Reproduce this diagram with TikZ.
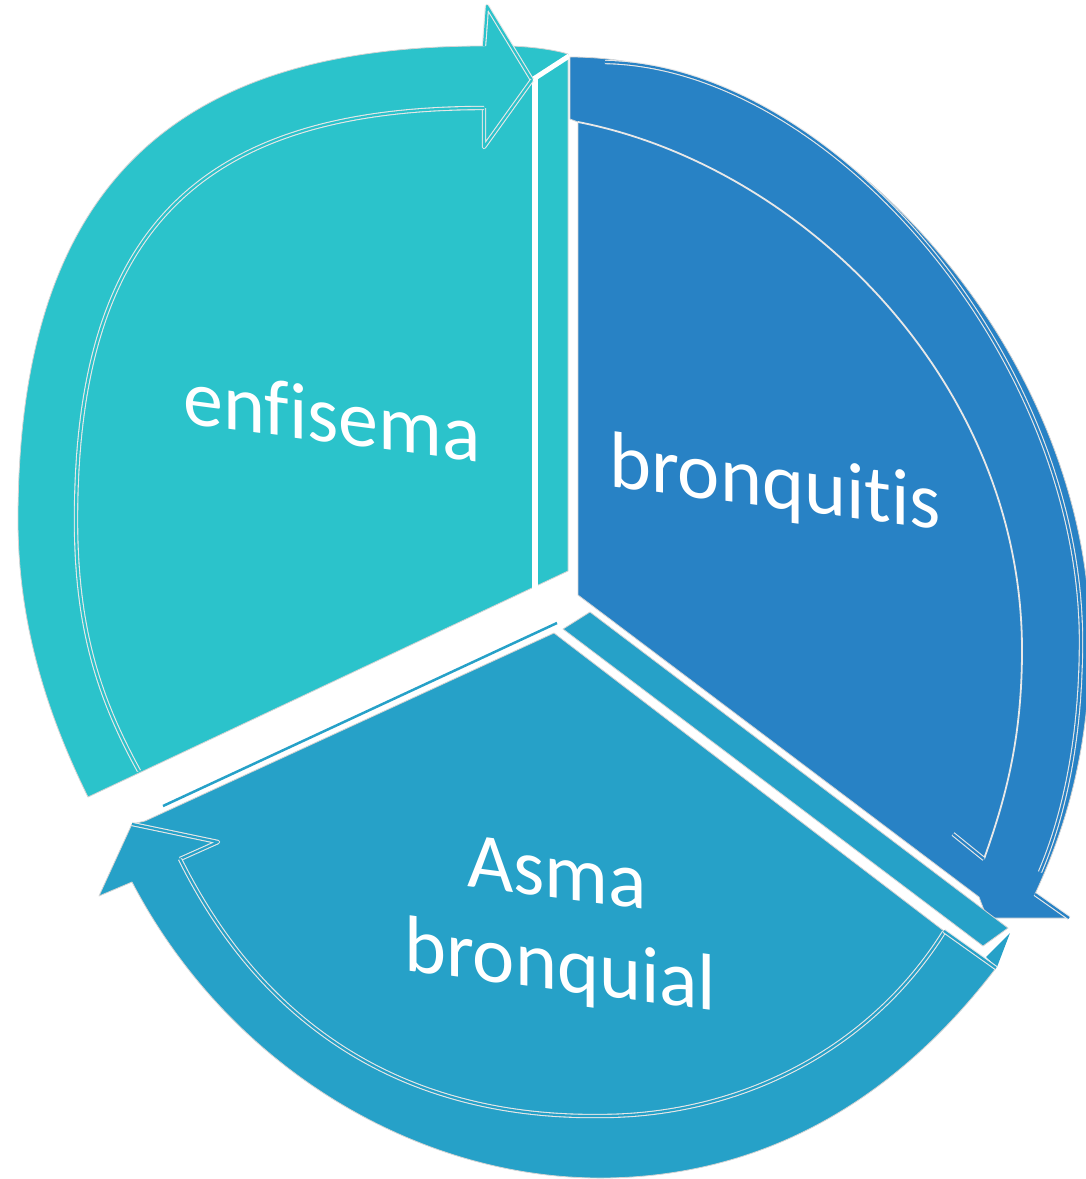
\documentclass[tikz,border=0pt]{standalone}
\usepackage{fontspec}
\setmainfont{Carlito}[Ligatures=CommonOff]
\definecolor{tealc}{RGB}{43,195,203}
\definecolor{bluec}{RGB}{40,130,197}
\definecolor{asmac}{RGB}{38,161,200}
\definecolor{edgec}{RGB}{212,212,212}
\definecolor{linec}{RGB}{232,232,232}
\tikzset{
  lbl/.style={text=white, font=\fontsize{80}{90}\selectfont, inner sep=0pt, anchor=base west, yslant=-0.132},
  dbl/.style={draw=linec, line width=1.1pt, double distance=2.2pt},
  piece/.style={draw=edgec, line width=0.8pt},
}
\begin{document}
\begin{tikzpicture}[x=1pt,y=-1pt,line join=round]
\useasboundingbox (0,0) rectangle (1086,1179);
% ---------- enfisema ----------
\filldraw[piece, fill=tealc]
  (88,797) .. controls (45,710) and (18,620) .. (18,520)
  .. controls (18,180) and (180,46) .. (484,46)
  -- (487,6) -- (511,46)
  .. controls (535,47) and (555,50) .. (568,54)
  -- (568,571) -- cycle;
\draw[white, line width=6.5pt] (535,78) -- (535,589);
\draw[white, line width=5pt] (532,80) -- (569,56);
\draw[dbl, double=tealc] (484,46) -- (487,6) -- (532,80);
\draw[dbl, double=tealc] (532,80) -- (484,147) -- (484,108);
\draw[dbl, double=tealc] (484,108) .. controls (200,108) and (76,230) .. (76,520)
  .. controls (76,630) and (100,700) .. (139,771);
% ---------- bronquitis ----------
\filldraw[piece, fill=bluec]
  (570,119) -- (570,57) .. controls (830,57) and (1090,350) .. (1090,640)
  .. controls (1090,760) and (1060,840) .. (1035,894)
  -- (1069,918) -- (987,918) -- (979,897) -- (578,595) -- (578,122) -- cycle;
\draw[dbl, double=bluec] (605,62) .. controls (830,66) and (1080,355) .. (1081,640)
  .. controls (1081,755) and (1058,830) .. (1040,872);
\draw[linec, line width=1.8pt] (578,122) .. controls (800,165) and (1022,380) .. (1022,650)
  .. controls (1022,740) and (1005,800) .. (984,859);
\draw[dbl, double=bluec] (984,859) -- (953,834);
\draw[dbl, double=bluec] (1035,894) -- (1069,918);
% ---------- Asma bronquial ----------
\filldraw[piece, fill=asmac]
  (132,824) -- (145,821) -- (554,633) -- (944,931) -- (996,968)
  .. controls (880,1120) and (740,1178) .. (600,1178)
  .. controls (420,1178) and (230,1070) .. (132,882)
  -- (99,896) -- cycle;
\filldraw[piece, fill=asmac] (563,629) -- (590,612) -- (1008,928) -- (983,946) -- cycle;
\fill[asmac] (986,957) -- (1010,933) -- (997,967) -- cycle;
\draw[asmac, line width=2.5pt] (163,806) -- (557,623);
\draw[dbl, double=asmac] (132,824) -- (218,842) -- (180,859);
\draw[dbl, double=asmac] (180,859) .. controls (270,1040) and (420,1118) .. (600,1116)
  .. controls (740,1116) and (870,1050) .. (944,932);
\draw[dbl, double=asmac] (944,931) -- (996,968);
% ---------- labels ----------
\node[lbl] (t1) at (183,423) {enfisema};
\node[lbl] (t2) at (609,486) {bronquitis};
\node[lbl] (t3) at (467,886) {Asma};
\node[lbl] (t4) at (404,970) {bronquial};
\end{tikzpicture}
\end{document}
